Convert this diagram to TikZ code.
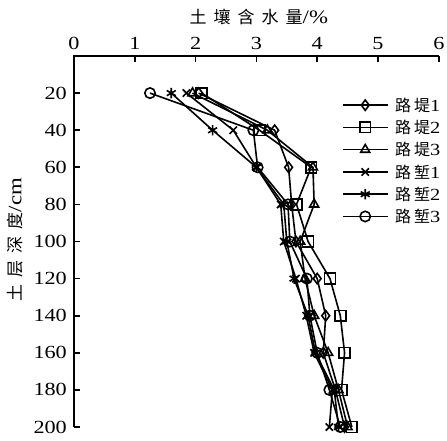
\documentclass[tikz,border=0pt]{standalone}
\usepackage{fontspec}
\setmainfont{Liberation Serif}
\newfontfamily\numfont{Liberation Serif}[FakeStretch=1.2]
\newfontfamily\cjk{Noto Sans CJK SC}
\usetikzlibrary{plotmarks}

\begin{document}
\begin{tikzpicture}[x=60.8pt, y=-1.855pt,
    axisline/.style={line width=1.7pt},
    curve/.style={line width=1.6pt, mark size=5.2pt, mark options={solid, line width=1.6pt}},
    ticklabel/.style={font=\fontsize{18.5}{22}\numfont, inner sep=0pt},
    legendlabel/.style={font=\fontsize{17}{20}\numfont, anchor=west, inner sep=0pt}]
    \useasboundingbox (-74pt,56pt) rectangle (373pt,-384pt);

    % Axes
    \draw[axisline] (0,200) -- (0,0) -- (6,0);
    \foreach \v in {1,...,6}
        \draw[axisline] (\v,0) -- ++(0,3.2);
    \foreach \d in {20,40,...,200}
        \draw[axisline] (0,\d) -- ++(0.1,0);

    % Tick labels
    \foreach \v in {0,...,6}
        \node[ticklabel, anchor=south] (xt\v) at (\v,-3.5) {\v};
    \foreach \d in {20,40,...,200}
        \node[ticklabel, anchor=east] (yt\d) at ([xshift=-7pt]0,\d) {\d};

    % Axis titles
    \node[font=\fontsize{19}{22}\numfont, inner sep=0pt] (xtitle) at (3.04,-21)
        {{\fontsize{17}{20}\cjk 土\hspace{7pt}壤\hspace{7pt}含\hspace{7pt}水\hspace{7pt}量}/\%};
    \node[font=\fontsize{19}{22}\numfont, inner sep=0pt, rotate=90] (ytitle) at (-0.97,99)
        {{\fontsize{17}{20}\cjk 土\hspace{7pt}层\hspace{7pt}深\hspace{7pt}度}/cm};

    % Data
    \draw[curve, mark=diamond] plot coordinates {(2.05,20) (3.3,40) (3.53,60) (3.58,80) (3.65,100)
        (4.0,120) (4.14,140) (4.1,160) (4.3,180) (4.45,200)};
    \draw[curve, mark=square, mark size=5.4pt] plot coordinates {(2.1,20) (3.05,40) (3.9,60) (3.66,80) (3.85,100)
        (4.21,120) (4.38,140) (4.45,160) (4.4,180) (4.57,200)};
    \draw[curve, mark=triangle] plot coordinates {(1.95,20) (3.18,40) (3.93,60) (3.95,80) (3.72,100)
        (3.8,120) (3.95,140) (4.18,160) (4.35,180) (4.5,200)};
    \draw[curve, mark=x] plot coordinates {(1.85,20) (2.62,40) (3.0,60) (3.4,80) (3.45,100)
        (3.65,120) (3.82,140) (3.95,160) (4.25,180) (4.2,200)};
    \draw[curve, mark=asterisk] plot coordinates {(1.6,20) (2.28,40) (3.0,60) (3.45,80) (3.5,100)
        (3.62,120) (3.85,140) (3.97,160) (4.28,180) (4.35,200)};
    \draw[curve, mark=o] plot coordinates {(1.25,20) (2.95,40) (3.02,60) (3.52,80) (3.55,100)
        (3.83,120) (3.88,140) (4.0,160) (4.2,180) (4.38,200)};

    % Legend
    \foreach \m/\k/\n [count=\i] in {diamond/堤/1, square/堤/2, triangle/堤/3, x/堑/1, asterisk/堑/2, o/堑/3} {
        \pgfmathsetmacro\d{14.5+12*\i}
        \draw[curve] (4.42,\d) -- (5.16,\d);
        \draw[curve, mark=\m] plot coordinates {(4.79,\d)};
        \node[legendlabel] (leg\i) at (5.28,\d) {{\fontsize{16}{19}\cjk 路\hspace{3pt}\k}\n};
    }
\end{tikzpicture}
\end{document}
